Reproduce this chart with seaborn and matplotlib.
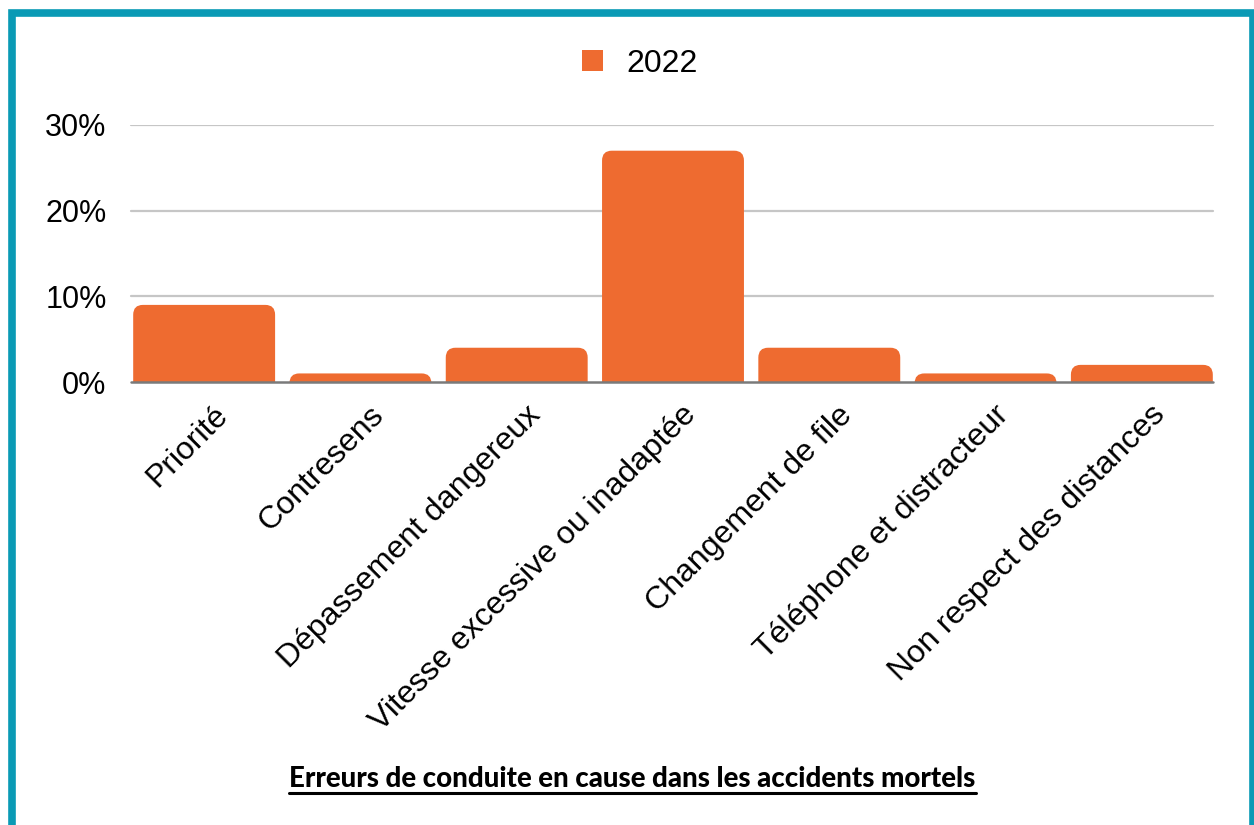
import matplotlib
matplotlib.use('Agg')
import matplotlib.pyplot as plt
import matplotlib.transforms as mtransforms
import seaborn as sns
import pandas as pd
from matplotlib.patches import FancyBboxPatch, Rectangle
from matplotlib.lines import Line2D

# Data
categories = ['Priorité', 'Contresens', 'Dépassement dangereux',
              'Vitesse excessive ou inadaptée', 'Changement de file',
              'Téléphone et distracteur', 'Non respect des distances']
values_2022 = [9, 1, 4, 27, 4, 1, 2]
year = '2022'
title = 'Erreurs de conduite en cause dans les accidents mortels'
yticks = [0, 10, 20, 30]

ORANGE = '#EE6B30'
TEAL = '#0A9AB5'

sns.set_style("white")
plt.rcParams['font.family'] = ['Liberation Sans', 'DejaVu Sans']

df = pd.DataFrame({'cause': categories, 'pct': values_2022, 'year': year})

fig = plt.figure(figsize=(12.54, 8.25), dpi=100)
# axes spans 126..1220 px, plot 125..382 px vertically
ax = fig.add_axes([126 / 1254, 1 - 382 / 825, 1094 / 1254, 257 / 825])

sns.barplot(data=df, x='cause', y='pct', hue='year', palette=[ORANGE],
            width=0.908, ax=ax, legend=False, saturation=1)

ax.set_ylim(0, 30)
ax.set_xlim(-0.5, len(categories) - 0.5)

# Rounded top corners: replace bars with rounded boxes (bottom clipped by axes)
r = 0.062
aspect = 18.5
for p in list(ax.patches):
    x, w, h = p.get_x(), p.get_width(), p.get_height()
    p.remove()
    box = FancyBboxPatch((x, -r * aspect), w, h + r * aspect,
                         boxstyle=f'round,pad=0,rounding_size={r}',
                         mutation_aspect=aspect, facecolor=ORANGE,
                         edgecolor='none', clip_on=True, zorder=2)
    ax.add_patch(box)

# Grid and baseline
ax.set_yticks(yticks)
ax.set_yticklabels([f'{t}%' for t in yticks], fontsize=22, color='black')
for t in yticks[1:]:
    ax.axhline(t, xmin=0.005, xmax=0.994, color='#C6C6C6', lw=1.6, zorder=1)
ax.axhline(0, xmin=0.005, xmax=0.994, color='#7A7A7A', lw=1.8, zorder=3,
           clip_on=False)
for s in ax.spines.values():
    s.set_visible(False)
ax.tick_params(axis='y', length=0, pad=14)
ax.tick_params(axis='x', length=0, pad=13)
ax.set_xticks(range(len(categories)))
ax.set_xticklabels(categories, rotation=45, ha='right',
                   rotation_mode='anchor', fontsize=23, color='black')
# nudge the rotated labels a bit to the right
shift = mtransforms.ScaledTranslation(6 / 72, 0, fig.dpi_scale_trans)
for lab in ax.get_xticklabels():
    lab.set_transform(lab.get_transform() + shift)
ax.set_xlabel('')
ax.set_ylabel('')

# Legend
handle = Rectangle((0, 0), 1, 1, facecolor=ORANGE, edgecolor='none')
leg = fig.legend([handle], [year], loc='center', bbox_to_anchor=(0.5105, 0.923),
                 frameon=False, fontsize=23, handlelength=0.65, handleheight=0.65,
                 handletextpad=0.75)
for t in leg.get_texts():
    t.set_color('black')

# Title with underline
title_txt = fig.text(0.5045, 1 - 787 / 825, title, ha='center', va='baseline',
                     fontsize=19.9, fontweight='black', color='black',
                     family=['Lato', 'DejaVu Sans'])
fig.canvas.draw()
bb = title_txt.get_window_extent().transformed(fig.transFigure.inverted())
fig.add_artist(Line2D([bb.x0, bb.x1], [1 - 793 / 825] * 2, color='black', lw=2.2,
                      transform=fig.transFigure))

# Frame border
fig.add_artist(Rectangle((11.5 / 1254, -0.05), (1252.5 - 11.5) / 1254, 1.05 - 12.5 / 825,
                         transform=fig.transFigure, fill=False,
                         edgecolor=TEAL, lw=5.5))

fig.savefig('out.png', dpi=100)
